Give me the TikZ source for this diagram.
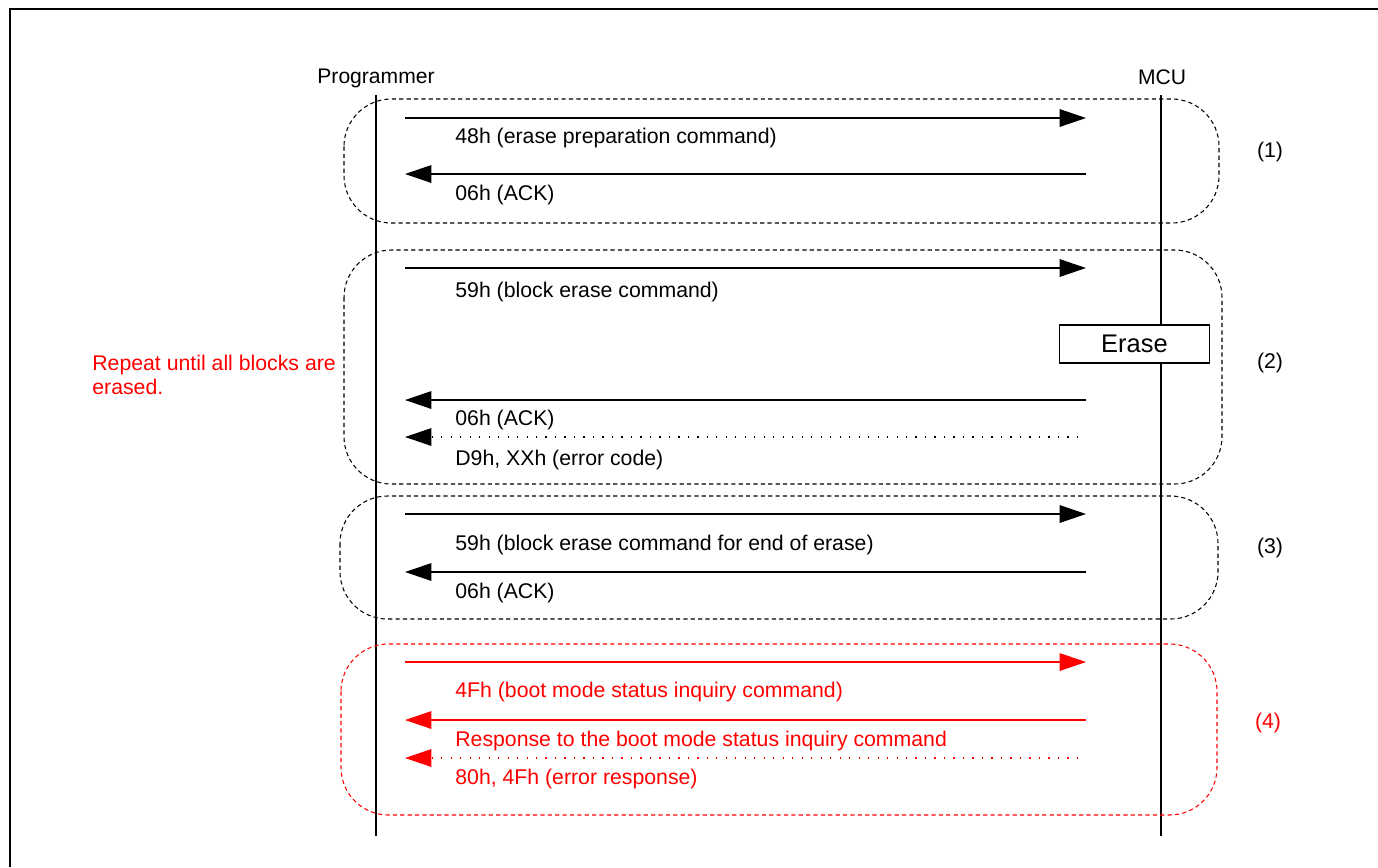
\documentclass[tikz,border=0pt]{standalone}
\usepackage{fontspec}
\setmainfont{Liberation Sans}
\usetikzlibrary{positioning,arrows.meta}

\tikzset{
  msg/.style={line width=0.75pt,-{Triangle[length=15pt,width=10pt]}},
  errmsg/.style={msg,dash pattern=on 0.7pt off 4.7pt},
  grp/.style={line width=0.6pt,dash pattern=on 2.4pt off 1.8pt,rounded corners=27pt},
  lbl/.style={anchor=west,inner sep=0pt,font=\fontsize{12.1}{14}\selectfont},
  life/.style={line width=0.9pt},
}

\begin{document}
\begin{tikzpicture}[x=0.02cm,y=-0.02cm]
\useasboundingbox (0,0) rectangle (1378,867);
\draw[line width=1.2pt] (10,867) -- (10,9) -- (1378,9);

% lifelines
\node[inner sep=0pt,font=\fontsize{12}{14}\selectfont] (prog) at (376,78) {Programmer};
\node[inner sep=0pt,font=\fontsize{12}{14}\selectfont] (mcu) at (1162,77) {MCU};
\coordinate (progtop) at (376,95);
\coordinate (progbot) at (376,836);
\coordinate (mcutop) at (1161,95);
\coordinate (mcubot) at (1161,836);
\draw[life] (progtop) -- (progbot);
\draw[life] (mcutop) -- (mcubot);

% groups
\draw[grp] (344,99) rectangle (1219,223);
\draw[grp] (344,250) rectangle (1222,484);
\draw[grp] (340,496) rectangle (1218,619);
\draw[grp,red] (341,644) rectangle (1217,815);
\node[lbl,anchor=center] (g1) at (1270,152) {(1)};
\node[lbl,anchor=center] (g2) at (1270,363) {(2)};
\node[lbl,anchor=center] (g3) at (1270,548) {(3)};
\node[lbl,anchor=center,red] (g4) at (1268,723) {(4)};

% message ends
\foreach \n/\y in {a/118,b/174,c/268,d/400,f/514,g/572,h/662,i/720} {
  \coordinate (p\n) at (405,\y);
  \coordinate (m\n) at (1086,\y);
}
\foreach \n/\y in {e/437,j/758} {
  \coordinate (p\n) at (405,\y);
  \coordinate (m\n) at (1078,\y);
}

% (1)
\draw[msg] (pa) -- (ma);
\node[lbl] (ta) at (455,138) {48h (erase preparation command)};
\draw[msg] (mb) -- (pb);
\node[lbl] (tb) at (455,195) {06h (ACK)};

% (2)
\draw[msg] (pc) -- (mc);
\node[lbl] (tc) at (455,292) {59h (block erase command)};
\node[draw,fill=white,line width=0.8pt,minimum width=85.6pt,minimum height=21.5pt,
  inner sep=0pt,font=\fontsize{14.5}{16}\selectfont] (erase) at (1134.5,344) {Erase};
\draw[msg] (md) -- (pd);
\node[lbl] (td) at (455,420) {06h (ACK)};
\draw[errmsg] (me) -- (pe);
\node[lbl] (te) at (455,460) {D9h, XXh (error code)};
\node[lbl,red,align=left,font=\fontsize{12.1}{13.6}\selectfont] (rep) at (92,375)
  {Repeat until all blocks are\\erased.};

% (3)
\draw[msg] (pf) -- (mf);
\node[lbl] (tf) at (455,545) {59h (block erase command for end of erase)};
\draw[msg] (mg) -- (pg);
\node[lbl] (tg) at (455,593) {06h (ACK)};

% (4)
\draw[msg,red] (ph) -- (mh);
\node[lbl,red] (th) at (455,692) {4Fh (boot mode status inquiry command)};
\draw[msg,red] (mi) -- (pi);
\node[lbl,red] (ti) at (455,741) {Response to the boot mode status inquiry command};
\draw[errmsg,red] (mj) -- (pj);
\node[lbl,red] (tj) at (455,779) {80h, 4Fh (error response)};
\end{tikzpicture}
\end{document}
